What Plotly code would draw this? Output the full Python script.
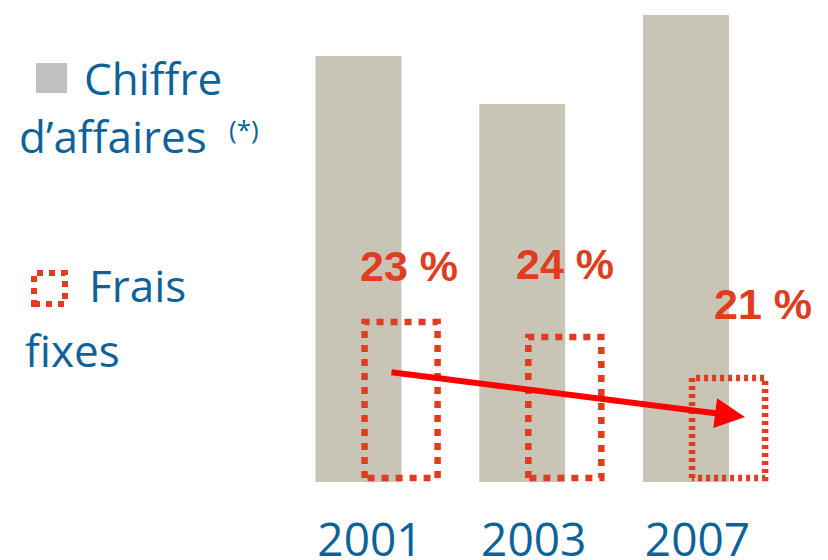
import plotly.graph_objects as go

# ---- data ----
years = ["2001", "2003", "2007"]
chiffre_affaires = [426, 378, 467]      # relative revenue (bar heights)
frais_fixes = [160, 145, 104]           # relative fixed costs (dotted boxes)
frais_pct = ["23 %", "24 %", "21 %"]    # share of fixed costs

# ---- style ----
PAGE_W, PAGE_H = 828, 560
OFF = 8                                  # browser body margin
W, H = PAGE_W - OFF, PAGE_H - OFF
BASE_Y = 482                             # page y of the bars' baseline
PLOT_H = BASE_Y - OFF
BLUE = "#0D6399"
RED = "#E03C20"
TAN = "#C9C5B6"
LEG_GRAY = "#C0C0C0"
UNIT = 163.75
X0_PAGE = 358.5
XR = [(OFF - X0_PAGE) / UNIT, (PAGE_W - X0_PAGE) / UNIT]
box_off = 0.26
box_half = 0.223
box_base = 4
box_dash = ["7px,7px", "7px,7px", "4px,4px"]
lbl_xshift = [8, 0, 34]
lbl_yshift = [30, 47, 48]
tick_shift = 0.07

xs = list(range(len(years)))

def px(xpage):
    return (xpage - OFF) / W

def py(ypage):
    return (BASE_Y - ypage) / PLOT_H

fig = go.Figure()
fig.add_trace(go.Bar(x=xs, y=chiffre_affaires, width=0.525, marker=dict(color=TAN, line=dict(width=0)),
                     name="Chiffre d'affaires", showlegend=False))

for i, v in enumerate(frais_fixes):
    c = xs[i] + box_off
    x0, x1 = c - box_half, c + box_half
    fig.add_trace(go.Scatter(x=[x0, x0, x1, x1, x0], y=[box_base, v, v, box_base, box_base], mode="lines",
                             line=dict(color=RED, width=6.5, dash=box_dash[i]), showlegend=False,
                             hoverinfo="skip"))
    fig.add_annotation(x=c, y=v, text=f"<b>{frais_pct[i]}</b>", showarrow=False, xanchor="center",
                       yanchor="bottom", xshift=lbl_xshift[i], yshift=lbl_yshift[i],
                       font=dict(family="Liberation Sans, Arial", size=43, color=RED))

# trend arrow
fig.add_annotation(x=xs[2] + 0.36, y=65, ax=xs[0] + 0.192, ay=110, xref="x", yref="y", axref="x", ayref="y",
                   text="", showarrow=True, arrowhead=2, arrowsize=1, arrowwidth=6, arrowcolor="#FF0000",
                   standoff=0)

# legend-like text
font_leg = dict(family="Open Sans", size=44, color=BLUE)
fig.add_annotation(xref="paper", yref="paper", x=px(82), y=py(78), text="Chiffre", showarrow=False,
                   xanchor="left", yanchor="middle", font=font_leg)
fig.add_annotation(xref="paper", yref="paper", x=px(17), y=py(136), text="d’affaires", showarrow=False,
                   xanchor="left", yanchor="middle", font=font_leg)
fig.add_annotation(xref="paper", yref="paper", x=px(227), y=py(129), text="(*)", showarrow=False,
                   xanchor="left", yanchor="middle", font=dict(family="Open Sans", size=26, color=BLUE))
fig.add_annotation(xref="paper", yref="paper", x=px(87), y=py(285), text="Frais", showarrow=False,
                   xanchor="left", yanchor="middle", font=font_leg)
fig.add_annotation(xref="paper", yref="paper", x=px(23), y=py(350), text="fixes", showarrow=False,
                   xanchor="left", yanchor="middle", font=font_leg)
fig.add_shape(type="rect", xref="paper", yref="paper", x0=px(36), x1=px(67), y0=py(93), y1=py(63),
              fillcolor=LEG_GRAY, line=dict(width=0))
fig.add_shape(type="rect", xref="paper", yref="paper", x0=px(34), x1=px(65), y0=py(304), y1=py(273),
              fillcolor="rgba(0,0,0,0)", line=dict(color=RED, width=6, dash="6px,6px"))

fig.update_layout(
    width=W, height=H, margin=dict(l=0, r=0, t=0, b=H - PLOT_H, autoexpand=False),
    paper_bgcolor="white", plot_bgcolor="white", showlegend=False,
    xaxis=dict(range=XR, tickvals=[x + tick_shift for x in xs], ticktext=years, showgrid=False,
               zeroline=False, showline=False, ticks="outside", ticklen=18, tickcolor="rgba(0,0,0,0)",
               tickfont=dict(family="Open Sans", size=46, color=BLUE), fixedrange=True),
    yaxis=dict(range=[0, PLOT_H], visible=False, fixedrange=True),
)

fig.write_html("out.html")
